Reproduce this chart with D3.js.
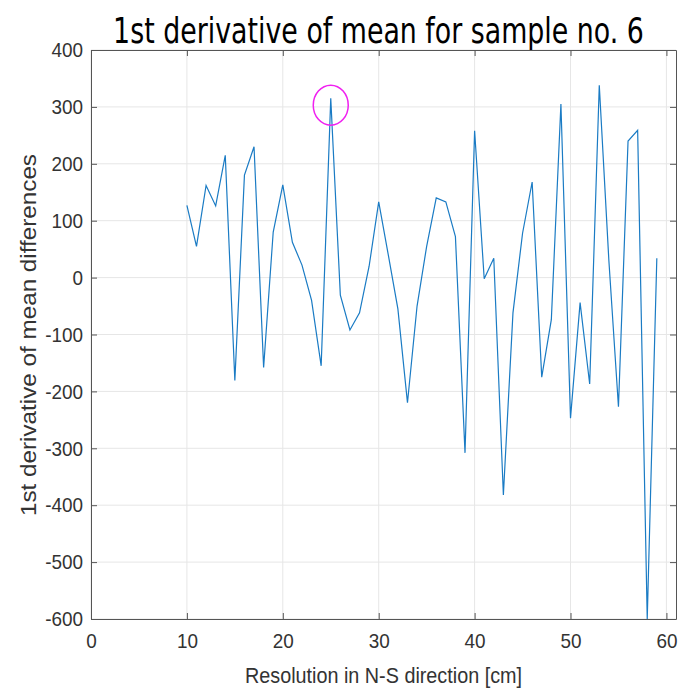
<!DOCTYPE html>
<html>
<head>
<meta charset="utf-8">
<script src="https://cdn.jsdelivr.net/npm/d3@7"></script>
<style>
  body { margin: 0; background: #fff; }
  text { font-family: "Liberation Sans", Arial, sans-serif; }
</style>
</head>
<body>
<div id="chart"></div>
<script>
// values
var resolution = d3.range(10, 60)   // 10 .. 59 cm
var derivative = [127, 55, 162, 126, 215, -181, 180, 230, -158, 80,
                  163, 62, 22, -40, -155, 315, -31, -92, -62, 20,
                  133, 40, -55, -220, -50, 55, 140, 133, 72, -308,
                  258, -2, 34, -382, -62, 78, 168, -175, -74, 305,
                  -247, -44, -187, 338, 30, -227, 240, 259, -600, 34]
var xTicks = d3.range(0, 61, 10)
var yTicks = d3.range(-600, 401, 100)
var highlight = {x: 25, y: 303}

var W = 683, H = 689
var margin = {top: 50, right: 7, bottom: 70, left: 91}

var svg = d3.select('#chart').append('svg')
    .attr('width', W)
    .attr('height', H)

var x = d3.scaleLinear().domain([0, 61]).range([margin.left, W - margin.right])
var y = d3.scaleLinear().domain([-600, 400]).range([H - margin.bottom, margin.top])

// grid
svg.append('g').selectAll('line').data(xTicks).join('line')
    .attr('x1', d => x(d)).attr('x2', d => x(d))
    .attr('y1', y(-600)).attr('y2', y(400))
    .attr('stroke', '#e6e6e6')
svg.append('g').selectAll('line').data(yTicks).join('line')
    .attr('x1', x(0)).attr('x2', x(61))
    .attr('y1', d => y(d)).attr('y2', d => y(d))
    .attr('stroke', '#e6e6e6')

// data line
var line = d3.line().x((d, i) => x(resolution[i])).y(d => y(d))
svg.append('path')
    .datum(derivative)
    .attr('d', line)
    .attr('fill', 'none')
    .attr('stroke', '#1a7bc4')
    .attr('stroke-width', 1.2)

// box + ticks on all four sides (inward)
var tk = 6
var axisCol = '#555'
var plain = d => String(d)   // hyphen minus like matlab
var gx = svg.append('g').attr('transform', `translate(0,${y(-600)})`)
    .call(d3.axisBottom(x).tickValues(xTicks).tickFormat(plain).tickSizeInner(-tk).tickSizeOuter(0).tickPadding(14))
var gxt = svg.append('g').attr('transform', `translate(0,${y(400)})`)
    .call(d3.axisTop(x).tickValues(xTicks).tickSizeInner(-tk).tickSizeOuter(0).tickFormat(''))
var gy = svg.append('g').attr('transform', `translate(${x(0)},0)`)
    .call(d3.axisLeft(y).tickValues(yTicks).tickFormat(plain).tickSizeInner(-tk).tickSizeOuter(0).tickPadding(8))
var gyr = svg.append('g').attr('transform', `translate(${x(61)},0)`)
    .call(d3.axisRight(y).tickValues(yTicks).tickSizeInner(-tk).tickSizeOuter(0).tickFormat(''))

svg.selectAll('.domain, .tick line').attr('stroke', axisCol)
svg.selectAll('.tick text')
    .attr('fill', '#333')
    .style('font-size', '21px')
    .style('font-family', '"Liberation Sans", Arial, sans-serif')
gx.selectAll('.tick text').attr('dy', '0.71em')

// squeeze tick labels a little, like the picture
svg.selectAll('.tick text').each(function () {
  var len = this.getComputedTextLength()
  if (len > 0) d3.select(this).attr('textLength', len * 0.9).attr('lengthAdjust', 'spacingAndGlyphs')
})

// highlighted peak
svg.append('ellipse')
    .attr('cx', x(highlight.x))
    .attr('cy', y(highlight.y))
    .attr('rx', 17.5)
    .attr('ry', 20)
    .attr('fill', 'none')
    .attr('stroke', '#f020f0')
    .attr('stroke-width', 1.5)

// title: narrow it with a horizontal scale instead of textLength
var title = svg.append('g').attr('transform', 'translate(378.5,43)')
var tt = title.append('text')
    .attr('text-anchor', 'middle')
    .style('font-family', '"DejaVu Sans", sans-serif')
    .style('font-size', '35px')
    .attr('fill', '#000')
    .text('1st derivative of mean for sample no. 6')
var tw = tt.node().getComputedTextLength()
tt.attr('transform', `scale(${531 / tw},1)`)

svg.append('text')
    .attr('x', 383.5).attr('y', 683)
    .attr('text-anchor', 'middle')
    .style('font-size', '22px')
    .attr('fill', '#333')
    .attr('textLength', 277).attr('lengthAdjust', 'spacingAndGlyphs')
    .text('Resolution in N-S direction [cm]')

svg.append('text')
    .attr('transform', 'translate(36,335) rotate(-90)')
    .attr('text-anchor', 'middle')
    .style('font-size', '22.5px')
    .attr('fill', '#333')
    .attr('textLength', 362).attr('lengthAdjust', 'spacingAndGlyphs')
    .text('1st derivative of mean differences')
</script>
</body>
</html>
